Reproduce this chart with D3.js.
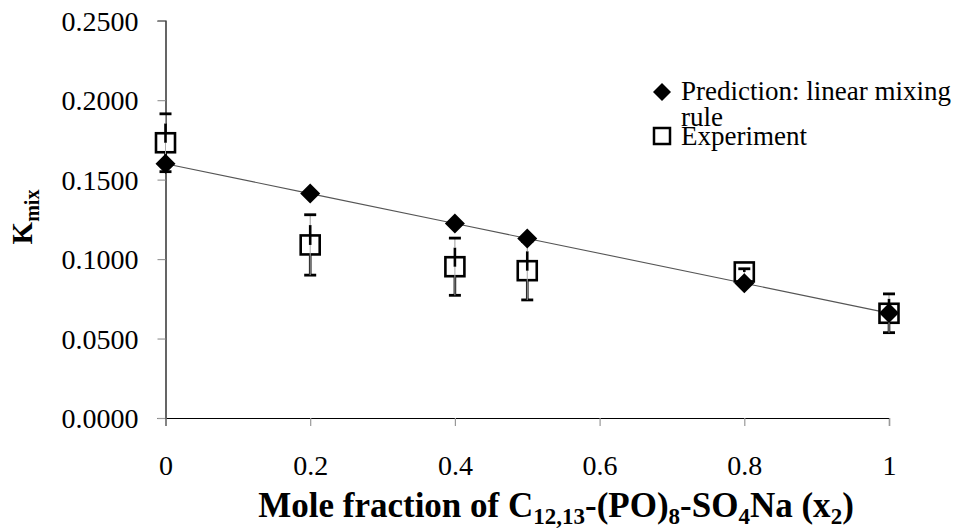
<!DOCTYPE html>
<html><head><meta charset="utf-8">
<script src="https://cdn.jsdelivr.net/npm/d3@7"></script>
<style>
html,body{margin:0;padding:0;background:#fff;}
svg text{font-family:"Liberation Serif","Times New Roman",serif;fill:#000;}
</style></head>
<body>
<script>
const xValues = [0, 0.2, 0.4, 0.5, 0.8, 1];
const predictionValues = [0.1600, 0.1412, 0.1224, 0.1130, 0.0848, 0.0660];
const experimentValues = [0.1732, 0.1089, 0.0952, 0.0927, 0.0919, 0.0659];
const experimentErrors = [0.0182, 0.0190, 0.0180, 0.0184, 0.0020, 0.0122];
const xTicks = [0, 0.2, 0.4, 0.6, 0.8, 1];
const yTicks = [0, 0.05, 0.10, 0.15, 0.20, 0.25];
const legendLabels = ["Prediction: linear mixing", "rule", "Experiment"];

const W = 959, H = 528;
const svg = d3.select("body").append("svg").attr("width", W).attr("height", H);

const x = d3.scaleLinear().domain([0, 1]).range([165.5, 889]);
const y = d3.scaleLinear().domain([0, 0.25]).range([418, 20.7]);

// axes
const yAxis = d3.axisLeft(y).tickValues(yTicks).tickSize(8).tickFormat(d3.format(".4f"));
const gy = svg.append("g").attr("transform", `translate(${x(0)},0)`).call(yAxis);
gy.select(".domain").attr("stroke", "#000").attr("stroke-width", 1.2);
gy.selectAll(".tick line").attr("stroke", "#999").attr("stroke-width", 1.2);
gy.selectAll(".tick text").attr("font-size", 28).attr("x", -27).attr("dy", "0.35em")
  .style("font-family", '"Liberation Serif",serif');

const xAxis = d3.axisBottom(x).tickValues(xTicks).tickSize(8).tickFormat(d3.format("~g"));
const gx = svg.append("g").attr("transform", `translate(0,${y(0)})`).call(xAxis);
gx.select(".domain").attr("stroke", "#000").attr("stroke-width", 1.2);
gx.selectAll(".tick line").attr("stroke", "#999").attr("stroke-width", 1.2);
gx.selectAll(".tick text").attr("font-size", 28).attr("y", 47).attr("dy", "0.35em")
  .style("font-family", '"Liberation Serif",serif');
svg.selectAll(".tick text").attr("fill", "#000");

// prediction line
const pts = xValues.map((v, i) => ({x: v, p: predictionValues[i], e: experimentValues[i], err: experimentErrors[i]}));
svg.append("path").datum(pts)
  .attr("d", d3.line().x(d => x(d.x)).y(d => y(d.p)))
  .attr("fill", "none").attr("stroke", "#555").attr("stroke-width", 1.1);

// experiment squares with error bars
const sq = 19, capW = 12;
const g = svg.append("g");
pts.forEach(d => {
  const cx = x(d.x), cy = y(d.e);
  const top = y(d.e + d.err), bot = y(d.e - d.err);
  const sqTop = cy - sq / 2, sqBot = cy + sq / 2;
  g.append("line").attr("x1", cx).attr("x2", cx).attr("y1", Math.max(sqBot, cy)).attr("y2", bot)
    .attr("stroke", "#000").attr("stroke-width", 2.6);
  g.append("line").attr("x1", cx - capW / 2).attr("x2", cx + capW / 2).attr("y1", bot).attr("y2", bot)
    .attr("stroke", "#000").attr("stroke-width", 2.8);
  g.append("rect").attr("x", cx - sq / 2).attr("y", sqTop).attr("width", sq).attr("height", sq)
    .attr("fill", "#fff").attr("stroke", "#000").attr("stroke-width", 2.6);
  g.append("line").attr("x1", cx).attr("x2", cx).attr("y1", cy).attr("y2", Math.max(cy, bot))
    .attr("stroke", "#aaa").attr("stroke-width", 1);
  const mid = top < sqTop ? top + (sqTop - top) * 0.5 : top;
  g.append("line").attr("x1", cx).attr("x2", cx).attr("y1", cy).attr("y2", mid)
    .attr("stroke", "#000").attr("stroke-width", 2.6);
  g.append("line").attr("x1", cx).attr("x2", cx).attr("y1", mid).attr("y2", top)
    .attr("stroke", "#999").attr("stroke-width", 1);
  g.append("line").attr("x1", cx - capW / 2).attr("x2", cx + capW / 2).attr("y1", top).attr("y2", top)
    .attr("stroke", "#000").attr("stroke-width", 2.8);
});

// prediction diamonds
const diamond = (cx, cy, r) => `M${cx},${cy - r}L${cx + r},${cy}L${cx},${cy + r}L${cx - r},${cy}Z`;
svg.append("g").selectAll("path").data(pts).join("path")
  .attr("d", d => diamond(x(d.x), y(d.p), 10)).attr("fill", "#000");

// legend
const lg = svg.append("g");
lg.append("path").attr("d", diamond(662, 92, 9)).attr("fill", "#000");
lg.append("rect").attr("x", 662 - 8).attr("y", 136 - 8).attr("width", 16).attr("height", 16)
  .attr("fill", "#fff").attr("stroke", "#000").attr("stroke-width", 2.5);
lg.append("text").attr("x", 681).attr("y", 100).attr("font-size", 27).text(legendLabels[0]);
lg.append("text").attr("x", 681).attr("y", 126).attr("font-size", 27).text(legendLabels[1]);
lg.append("text").attr("x", 681).attr("y", 145).attr("font-size", 27).text(legendLabels[2]);

// y title
const yt = svg.append("text").attr("transform", "translate(32,217) rotate(-90)")
  .attr("text-anchor", "middle").attr("font-weight", "bold").attr("font-size", 29);
yt.append("tspan").text("K");
yt.append("tspan").attr("font-size", 20).attr("dy", 7).text("mix");

// x title
const xt = svg.append("text").attr("x", 556).attr("y", 517).attr("text-anchor", "middle")
  .attr("font-weight", "bold").attr("font-size", 35);
const parts = [["Mole fraction of C", 0], ["12,13", 1], ["-(PO)", 0], ["8", 1], ["-SO", 0], ["4", 1], ["Na (x", 0], ["2", 1], [")", 0]];
let prevSub = false;
parts.forEach(([t, sub]) => {
  const ts = xt.append("tspan").text(t);
  if (sub) { ts.attr("font-size", 23).attr("dy", prevSub ? 0 : 7); prevSub = true; }
  else { ts.attr("dy", prevSub ? -7 : 0); prevSub = false; }
});
</script>
</body></html>
